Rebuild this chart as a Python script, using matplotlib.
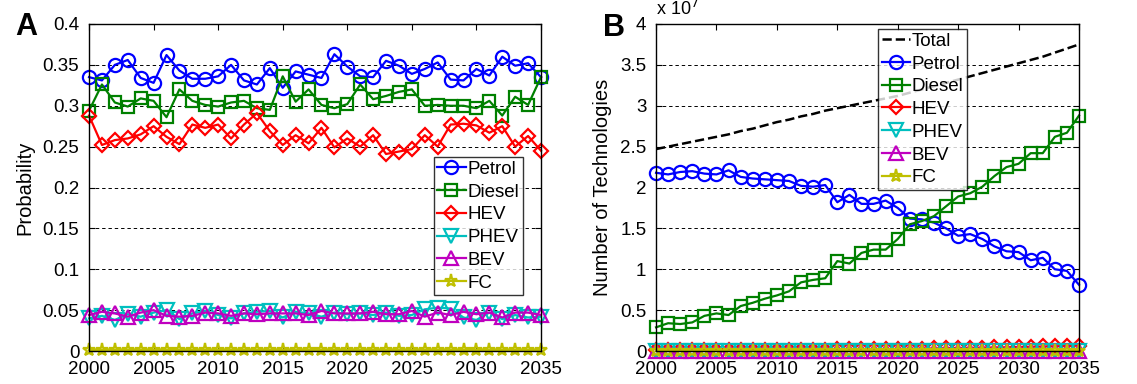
import numpy as np
import matplotlib
matplotlib.use("Agg")
import matplotlib.pyplot as plt

plt.rcParams["font.family"] = ["Liberation Sans", "DejaVu Sans"]

years = list(range(2000, 2036))

# panel A: probability of each technology
prob_petrol = [0.335, 0.331, 0.350, 0.356, 0.334, 0.328, 0.362, 0.343, 0.333, 0.333,
               0.336, 0.350, 0.331, 0.326, 0.346, 0.322, 0.342, 0.338, 0.334, 0.363,
               0.348, 0.336, 0.335, 0.355, 0.349, 0.339, 0.345, 0.353, 0.332, 0.331,
               0.345, 0.337, 0.360, 0.349, 0.352, 0.335]
prob_diesel = [0.294, 0.326, 0.304, 0.299, 0.309, 0.306, 0.286, 0.320, 0.306, 0.301,
               0.299, 0.304, 0.306, 0.297, 0.295, 0.336, 0.305, 0.320, 0.301, 0.297,
               0.302, 0.326, 0.308, 0.312, 0.317, 0.320, 0.300, 0.301, 0.300, 0.300,
               0.297, 0.306, 0.288, 0.311, 0.301, 0.335]
prob_hev = [0.288, 0.252, 0.258, 0.260, 0.265, 0.275, 0.262, 0.253, 0.277, 0.273,
            0.277, 0.260, 0.277, 0.291, 0.269, 0.252, 0.264, 0.254, 0.273, 0.249,
            0.260, 0.250, 0.264, 0.241, 0.244, 0.247, 0.264, 0.250, 0.277, 0.278,
            0.276, 0.267, 0.275, 0.250, 0.263, 0.245]
prob_phev = [0.040, 0.043, 0.038, 0.045, 0.042, 0.047, 0.050, 0.039, 0.046, 0.049,
             0.044, 0.040, 0.046, 0.048, 0.049, 0.041, 0.048, 0.046, 0.042, 0.047,
             0.045, 0.046, 0.044, 0.047, 0.043, 0.044, 0.051, 0.053, 0.052, 0.041,
             0.038, 0.047, 0.039, 0.044, 0.041, 0.042]
prob_bev = [0.044, 0.048, 0.046, 0.042, 0.047, 0.050, 0.043, 0.042, 0.043, 0.047,
            0.046, 0.043, 0.046, 0.045, 0.046, 0.046, 0.046, 0.044, 0.049, 0.046,
            0.046, 0.046, 0.048, 0.045, 0.045, 0.049, 0.042, 0.047, 0.044, 0.048,
            0.045, 0.047, 0.041, 0.047, 0.047, 0.044]
prob_fc = [0.001] * 36

# panel B: number of technologies (x 1e7)
num_total = [2.47, 2.50, 2.53, 2.56, 2.59, 2.62, 2.65, 2.69, 2.72, 2.76,
             2.80, 2.83, 2.87, 2.90, 2.94, 2.97, 3.00, 3.03, 3.06, 3.09,
             3.12, 3.16, 3.20, 3.24, 3.28, 3.32, 3.36, 3.40, 3.44, 3.48,
             3.52, 3.56, 3.60, 3.65, 3.70, 3.75]
num_petrol = [2.18, 2.16, 2.19, 2.20, 2.17, 2.16, 2.21, 2.13, 2.11, 2.10,
              2.09, 2.08, 2.02, 2.01, 2.03, 1.82, 1.91, 1.80, 1.80, 1.84,
              1.75, 1.62, 1.61, 1.57, 1.50, 1.41, 1.43, 1.37, 1.28, 1.22,
              1.21, 1.11, 1.14, 1.00, 0.98, 0.81]
num_diesel = [0.29, 0.34, 0.33, 0.35, 0.43, 0.46, 0.44, 0.55, 0.59, 0.64,
              0.68, 0.73, 0.84, 0.87, 0.89, 1.10, 1.07, 1.20, 1.24, 1.24,
              1.37, 1.55, 1.59, 1.65, 1.77, 1.89, 1.93, 2.01, 2.14, 2.25,
              2.29, 2.42, 2.42, 2.62, 2.67, 2.88]
num_hev = [0.010, 0.008, 0.009, 0.010, 0.011, 0.012, 0.011, 0.012, 0.014, 0.014,
           0.015, 0.015, 0.017, 0.018, 0.018, 0.019, 0.020, 0.021, 0.022, 0.022,
           0.024, 0.026, 0.029, 0.031, 0.034, 0.036, 0.038, 0.041, 0.043, 0.046,
           0.049, 0.052, 0.056, 0.058, 0.062, 0.066]
num_phev = [0.002] * 36
num_bev = [0.002] * 36
num_fc = [0.001] * 36

labels = ["Petrol", "Diesel", "HEV", "PHEV", "BEV", "FC"]
colors = ["#0000ff", "#008000", "#ff0000", "#00bfbf", "#bf00bf", "#bfbf00"]
markers = ["o", "s", "D", "v", "^", "*"]
msizes = [9.5, 8, 7.5, 9.5, 9.5, 9.5]

fig = plt.figure(figsize=(11.37, 3.84), dpi=100)
ax_a = fig.add_axes([0.0783, 0.0859, 0.3975, 0.8516])
ax_b = fig.add_axes([0.577, 0.0859, 0.372, 0.8516])


def style_axis(ax, ylim, yticks, yticklabels):
    ax.set_xlim(2000, 2035)
    ax.set_ylim(*ylim)
    ax.set_xticks(range(2000, 2036, 5))
    ax.set_yticks(yticks)
    ax.set_yticklabels(yticklabels)
    ax.tick_params(direction="in", top=True, right=True, labelsize=13.5,
                   length=4, pad=7)
    ax.yaxis.grid(True, linestyle=(0, (3.5, 3)), color="black", linewidth=0.7)
    ax.set_axisbelow(True)
    for s in ax.spines.values():
        s.set_linewidth(1.0)


def add_legend(ax, **kw):
    leg = ax.legend(fontsize=13.5, handlelength=1.5, handletextpad=0.1,
                    borderpad=0.2, labelspacing=0.3, fancybox=False,
                    edgecolor="black", borderaxespad=0, **kw)
    leg.get_frame().set_linewidth(1.0)
    return leg


series_a = [prob_petrol, prob_diesel, prob_hev, prob_phev, prob_bev, prob_fc]
for vals, lab, c, m, ms in zip(series_a, labels, colors, markers, msizes):
    ax_a.plot(years, vals, color=c, marker=m, ms=ms, mfc="none", mec=c,
              mew=1.6, lw=1.6, label=lab, clip_on=False)
yt_a = np.arange(0, 0.41, 0.05)
style_axis(ax_a, (0, 0.4), yt_a, ["0", "0.05", "0.1", "0.15", "0.2", "0.25", "0.3", "0.35", "0.4"])
ax_a.set_ylabel("Probability", fontsize=14.5, labelpad=6)
add_legend(ax_a, loc="lower right", bbox_to_anchor=(0.96, 0.17))

ax_b.plot(years, num_total, "--", color="black", lw=1.8, label="Total")
series_b = [num_petrol, num_diesel, num_hev, num_phev, num_bev, num_fc]
for vals, lab, c, m, ms in zip(series_b, labels, colors, markers, msizes):
    ax_b.plot(years, vals, color=c, marker=m, ms=ms, mfc="none", mec=c,
              mew=1.6, lw=1.6, label=lab, clip_on=False)
yt_b = np.arange(0, 4.01, 0.5)
style_axis(ax_b, (0, 4), yt_b, ["0", "0.5", "1", "1.5", "2", "2.5", "3", "3.5", "4"])
ax_b.set_ylabel("Number of Technologies", fontsize=14.5, labelpad=6)
add_legend(ax_b, loc="upper left", bbox_to_anchor=(0.525, 0.985))
ax_b.text(0.0, 1.015, "x 10$^{7}$", transform=ax_b.transAxes, fontsize=13,
          ha="left", va="bottom")

fig.text(0.013, 0.91, "A", fontsize=22, fontweight="bold")
fig.text(0.530, 0.905, "B", fontsize=22, fontweight="bold")

fig.savefig("out.png", dpi=100)
